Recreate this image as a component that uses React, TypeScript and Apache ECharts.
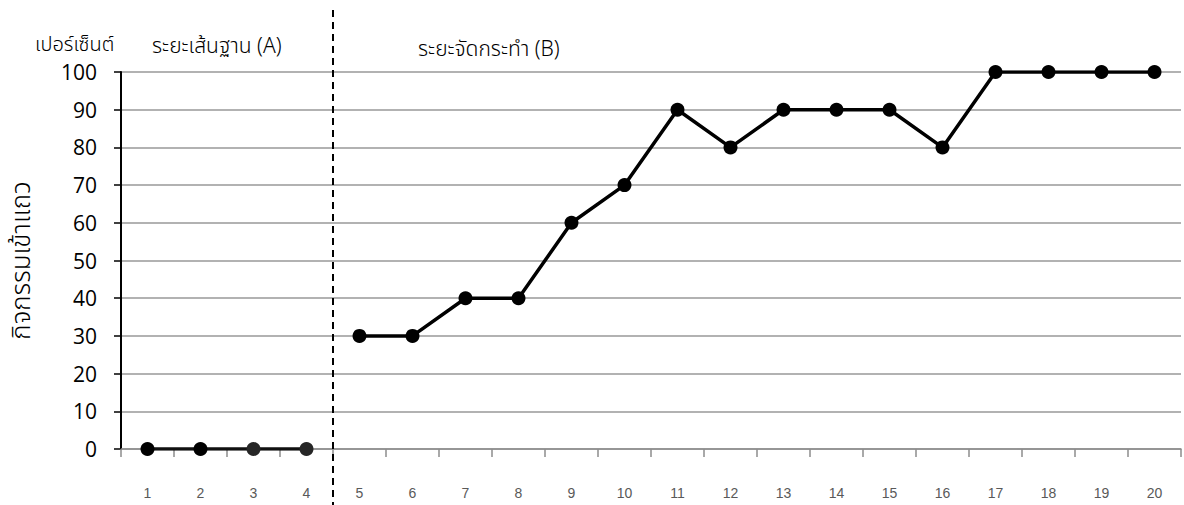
import React, { useEffect, useRef } from "react";
import * as echarts from "echarts";

const sessions = ["1","2","3","4","5","6","7","8","9","10","11","12","13","14","15","16","17","18","19","20"];
const baselineValues = [0, 0, 0, 0];
const treatmentValues = [30, 30, 40, 40, 60, 70, 90, 80, 90, 90, 90, 80, 100, 100, 100, 100];
const yTicks = { min: 0, max: 100, interval: 10 };
const yAxisTitle = "กิจกรรมเข้าแถว";
const unitLabel = "เปอร์เซ็นต์";
const phaseA = "ระยะเส้นฐาน (A)";
const phaseB = "ระยะจัดกระทำ (B)";

export default function App() {
  const ref = useRef<HTMLDivElement>(null);
  useEffect(() => {
    if (!ref.current) return;
    const chart = echarts.init(ref.current, null, { renderer: "svg" });
    const nA = baselineValues.length;
    const seriesA = sessions.map((_, i) => (i < nA ? baselineValues[i] : null));
    const seriesB = sessions.map((_, i) => (i >= nA ? treatmentValues[i - nA] : null));
    const thaiFont = "'Noto Sans Thai', 'Noto Sans', 'DejaVu Sans', sans-serif";
    chart.setOption({
      animation: false,
      backgroundColor: "#ffffff",
      grid: { left: 121, right: 3, top: 72, bottom: 56, containLabel: false, outerBoundsMode: "none" },
      xAxis: {
        type: "category",
        data: sessions,
        boundaryGap: true,
        axisLine: { lineStyle: { color: "#8c8c8c", width: 1.5 } },
        axisTick: { show: true, interval: 0, length: 8, lineStyle: { color: "#8c8c8c", width: 1.5 } },
        axisLabel: { color: "#595959", fontSize: 14, fontFamily: "'Liberation Sans', Arial, sans-serif", margin: 37, interval: 0 },
      },
      yAxis: {
        type: "value",
        min: yTicks.min,
        max: yTicks.max,
        interval: yTicks.interval,
        name: yAxisTitle,
        nameLocation: "middle",
        nameRotate: 90,
        nameGap: 86,
        nameTextStyle: { fontSize: 26, fontWeight: 300, color: "#000", fontFamily: thaiFont },
        axisLine: { show: true, lineStyle: { color: "#000", width: 2 } },
        axisTick: { show: true, length: 7, lineStyle: { color: "#000", width: 1.5 } },
        axisLabel: { color: "#000", fontSize: 21, fontFamily: "'Open Sans', sans-serif", margin: 24 },
        splitLine: { show: true, lineStyle: { color: "#999999", width: 1.5 } },
      },
      series: [
        {
          type: "line",
          data: seriesA.map((v, i) => (v === null ? null : { value: v, itemStyle: { color: i >= 2 ? "#262626" : "#000" } })),
          lineStyle: { color: "#111", width: 3.5 },
          itemStyle: { color: "#000" },
          symbol: "circle",
          symbolSize: 14,
          connectNulls: false,
          z: 3,
        },
        {
          type: "line",
          data: seriesB,
          lineStyle: { color: "#000", width: 3.5 },
          itemStyle: { color: "#000" },
          symbol: "circle",
          symbolSize: 14,
          connectNulls: false,
          z: 3,
        },
      ],
    });
    const p4 = chart.convertToPixel({ xAxisIndex: 0 }, sessions[nA - 1]) as number;
    const p5 = chart.convertToPixel({ xAxisIndex: 0 }, sessions[nA]) as number;
    const divX = Math.round((p4 + p5) / 2);
    chart.setOption({
      graphic: [
        {
          type: "line",
          shape: { x1: divX, y1: 10, x2: divX, y2: 505 },
          style: { stroke: "#000", lineWidth: 2, lineDash: [7, 5] },
          z: 10,
        },
        {
          type: "text",
          x: 35,
          y: 45,
          style: { text: unitLabel, fontSize: 20, fontWeight: 300, fill: "#000", fontFamily: thaiFont, verticalAlign: "middle" },
        },
        {
          type: "text",
          x: 152,
          y: 46,
          style: { text: phaseA, fontSize: 21, fontWeight: 300, fill: "#000", fontFamily: thaiFont, verticalAlign: "middle" },
        },
        {
          type: "text",
          x: 418,
          y: 49,
          style: { text: phaseB, fontSize: 21, fontWeight: 300, fill: "#000", fontFamily: thaiFont, verticalAlign: "middle" },
        },
      ],
    });
    return () => chart.dispose();
  }, []);
  return <div ref={ref} style={{ width: 1184, height: 505, position: "absolute", left: 0, top: 0 }} />;
}
